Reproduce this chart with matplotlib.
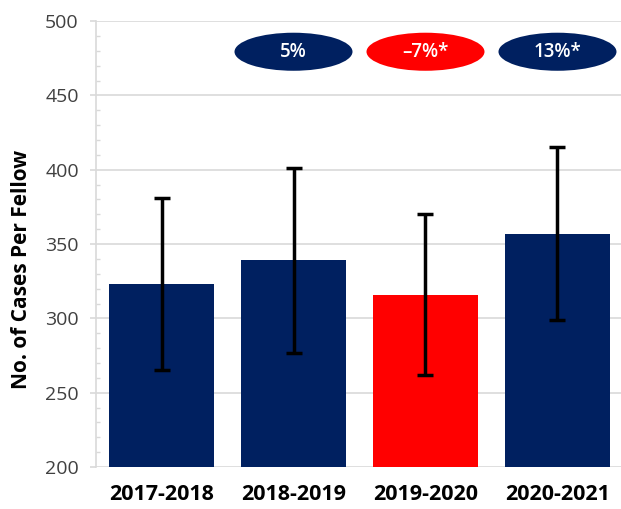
import matplotlib
matplotlib.use("Agg")
import matplotlib.pyplot as plt
from matplotlib.patches import Ellipse
from matplotlib.ticker import MultipleLocator

categories = ["2017-2018", "2018-2019", "2019-2020", "2020-2021"]
means = [323, 339, 316, 357]
errors = [58, 62, 54, 58]
bar_colors = ["#002060", "#002060", "#FF0000", "#002060"]
change_labels = ["5%", "\u20137%*", "13%*"]
change_colors = ["#002060", "#FF0000", "#002060"]

plt.rcParams['font.family'] = ['Open Sans', 'DejaVu Sans']

fig = plt.figure(figsize=(6.21, 5.09), dpi=100)
ax = fig.add_axes([0.1538, 0.0825, 0.8502, 0.876])

x = list(range(len(categories)))
ax.bar(x, means, width=0.8, color=bar_colors, zorder=2)
ax.errorbar(x, means, yerr=errors, fmt='none', ecolor='black', elinewidth=2.5,
            capsize=6, capthick=2.5, zorder=3)

ax.set_xlim(-0.5, 3.5)
ax.set_ylim(200, 500)
ax.yaxis.set_major_locator(MultipleLocator(50))
ax.yaxis.set_minor_locator(MultipleLocator(10))
ax.grid(axis='y', which='major', color='#d9d9d9', linewidth=1.2, zorder=0)
ax.set_axisbelow(True)

for s in ['top', 'right', 'bottom']:
    ax.spines[s].set_visible(False)
ax.spines['left'].set_color('#d9d9d9')
ax.spines['left'].set_linewidth(1.2)

ax.tick_params(axis='y', which='major', length=4, color='#d9d9d9', width=1.2,
               labelsize=14, labelcolor='#404040', pad=8)
ax.tick_params(axis='y', which='minor', direction='in', length=3, color='#d9d9d9', width=1)
ax.tick_params(axis='x', length=0, labelsize=15.5, pad=12)
ax.set_xticks(x)
ax.set_xticklabels(categories, fontweight='bold', color='black')

ax.set_ylabel("No. of Cases Per Fellow", fontsize=15, fontweight='bold', va='center')
ax.yaxis.set_label_coords(-0.140, 0.442)

for i, (lab, col) in enumerate(zip(change_labels, change_colors)):
    xc = i + 1
    ax.add_patch(Ellipse((xc, 479.4), 0.894, 25.6, facecolor=col, edgecolor='none', zorder=4))
    ax.text(xc, 479.4, lab, ha='center', va='center', color='white', fontsize=13.5,
            fontweight='semibold', zorder=5)

fig.savefig("out.png", dpi=100)
